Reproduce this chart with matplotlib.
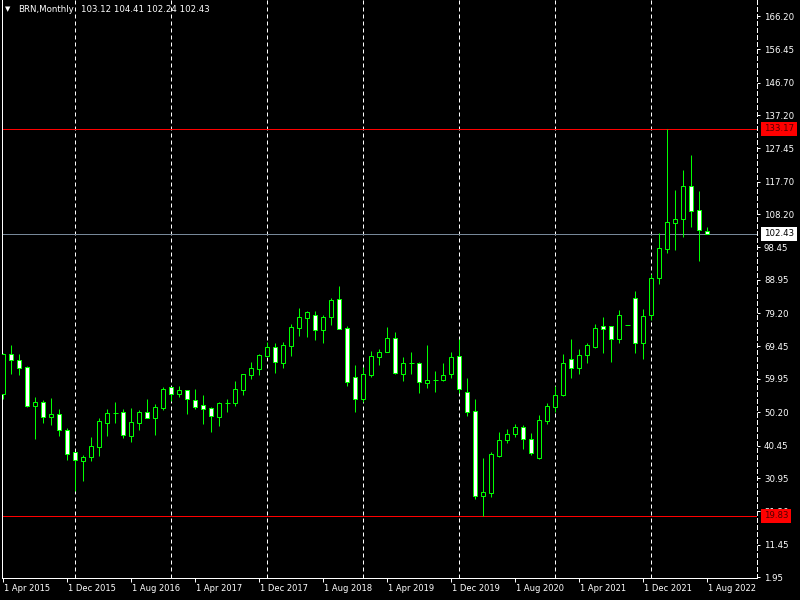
import matplotlib
matplotlib.use('Agg')
import matplotlib.pyplot as plt
import matplotlib.transforms as mtransforms
import numpy as np
import pandas as pd

# ---------------- data (monthly BRN candles, Apr 2015 .. Aug 2022) ----------------
months = pd.date_range('2015-04-01', periods=89, freq='MS')

opens = [55.46, 67.25, 65.40, 63.40, 51.95, 53.10, 48.70, 49.60, 44.90, 38.50,
         35.85, 37.00, 40.10, 47.15, 50.10, 50.20, 43.30, 47.15, 50.20, 48.60,
         51.50, 57.60, 55.65, 56.70, 53.70, 52.20, 51.45, 48.90, 52.90, 52.99,
         56.80, 61.20, 62.95, 66.76, 69.20, 64.70, 69.70, 75.00, 77.90, 78.60,
         74.20, 78.00, 83.27, 74.80, 60.40, 54.17, 61.20, 66.50, 67.93, 71.85,
         61.50, 64.50, 64.50, 58.86, 59.70, 59.70, 61.30, 66.60, 56.05, 50.57,
         25.77, 26.65, 37.50, 42.00, 43.70, 45.80, 42.30, 36.73, 47.73, 51.80,
         55.17, 65.70, 63.25, 67.05, 69.40, 75.37, 75.37, 71.73, 75.70, 83.56,
         70.38, 78.58, 89.40, 98.08, 105.60, 106.80, 116.35, 109.30, 103.12]
highs = [67.60, 69.90, 67.25, 63.75, 54.70, 53.80, 54.50, 51.15, 45.60, 38.60,
         37.80, 43.00, 48.50, 51.15, 53.20, 51.10, 51.45, 50.90, 54.10, 52.60,
         57.60, 57.60, 57.90, 56.80, 57.00, 55.25, 51.85, 53.30, 54.10, 59.35,
         61.40, 64.90, 67.25, 70.85, 70.40, 70.80, 76.04, 80.70, 79.75, 79.75,
         78.58, 83.65, 87.16, 75.45, 64.00, 63.37, 68.13, 68.63, 75.16, 73.70,
         66.40, 67.84, 64.90, 69.90, 62.27, 64.60, 67.84, 71.60, 60.20, 54.00,
         36.80, 38.56, 44.40, 45.30, 46.76, 46.47, 44.13, 49.40, 52.82, 57.90,
         67.25, 71.65, 68.72, 70.47, 76.04, 78.09, 75.40, 80.13, 75.70, 85.70,
         80.40, 90.60, 102.60, 133.17, 115.26, 121.10, 125.50, 114.97, 104.41]
lows = [54.17, 61.50, 61.10, 51.80, 42.46, 47.10, 46.50, 43.30, 36.10, 27.20,
        30.20, 36.00, 37.40, 43.25, 46.96, 42.70, 41.50, 45.00, 48.60, 43.55,
        51.00, 53.60, 54.75, 49.80, 51.20, 46.85, 44.50, 46.27, 50.20, 52.00,
        55.35, 59.90, 61.10, 66.50, 61.80, 63.25, 66.67, 72.50, 72.30, 71.45,
        70.57, 75.83, 74.60, 57.90, 50.30, 53.30, 60.60, 64.03, 67.80, 61.30,
        59.35, 61.40, 55.80, 57.40, 56.13, 59.40, 60.32, 55.75, 49.20, 24.72,
        19.83, 25.50, 37.20, 41.30, 43.00, 39.53, 37.60, 36.60, 46.85, 50.36,
        55.00, 60.32, 61.50, 64.70, 69.00, 67.63, 64.99, 70.57, 75.70, 67.63,
        65.88, 77.20, 87.80, 96.90, 97.80, 101.60, 104.50, 94.57, 102.24]
closes = [67.25, 65.60, 63.25, 51.95, 53.10, 48.70, 49.60, 44.90, 37.98, 36.10,
          37.10, 40.30, 47.60, 50.00, 50.10, 43.60, 47.26, 50.20, 48.60, 51.65,
          57.00, 55.65, 56.70, 53.99, 51.80, 51.24, 49.20, 52.80, 52.90, 56.90,
          61.30, 63.07, 66.87, 69.20, 64.80, 69.80, 75.07, 78.00, 79.50, 74.20,
          78.00, 82.97, 74.66, 59.15, 54.17, 61.30, 66.60, 67.75, 71.94, 61.78,
          64.60, 64.50, 59.15, 59.65, 59.70, 61.00, 66.30, 56.90, 50.20, 25.77,
          26.77, 37.98, 42.08, 43.83, 45.88, 42.29, 38.20, 47.85, 51.95, 55.17,
          64.53, 63.25, 66.87, 69.80, 74.78, 74.66, 71.73, 78.58, 75.70, 70.38,
          78.38, 89.40, 98.20, 105.80, 106.70, 116.35, 109.20, 103.64, 102.43]

date_tick_idx = list(range(0, 89, 8))
date_tick_labels = ['1 Apr 2015', '1 Dec 2015', '1 Aug 2016', '1 Apr 2017',
                    '1 Dec 2017', '1 Aug 2018', '1 Apr 2019', '1 Dec 2019',
                    '1 Aug 2020', '1 Apr 2021', '1 Dec 2021', '1 Aug 2022']
price_ticks = [166.20, 156.45, 146.70, 137.20, 127.45, 117.70, 108.20, 98.45,
               88.95, 79.20, 69.45, 59.95, 50.20, 40.45, 30.95, 21.20, 11.45, 1.95]
separator_idx = [9, 21, 33, 45, 57, 69, 81]   # January of each year
level_high = 133.17
level_low = 19.83
last_price = 102.43
symbol = 'BRN,Monthly'
last_ohlc = '103.12 104.41 102.24 102.43'

# ---------------- figure ----------------
GREEN = '#00ff00'
LW = 0.72  # one pixel at 100 dpi
W, H = 800, 600
fig = plt.figure(figsize=(8, 6), dpi=100, facecolor='black')
ax = fig.add_axes([2 / W, 22 / H, 755 / W, 578 / H], facecolor='black')

# axis scales (pixel calibrated)
px_per_unit = 3.416
ax.set_ylim(166.2 - 562 / px_per_unit, 166.2 + 16 / px_per_unit)
ax.set_xlim((2 - 3.3) / 8, (757 - 3.3) / 8)

x = np.arange(len(opens))
o = np.array(opens)
c = np.array(closes)
h = np.array(highs)
l = np.array(lows)
up = c > o
dn = c < o
flat = c == o

# separators
for k in separator_idx:
    ax.axvline(k, color='white', lw=LW, ls=(0, (4, 3)), zorder=1, snap=True)

# level lines
ax.axhline(level_high, color='#ff0000', lw=LW, zorder=2, snap=True)
ax.axhline(level_low, color='#ff0000', lw=LW, zorder=2, snap=True)
ax.axhline(last_price, color='#778899', lw=LW, zorder=2, snap=True)

# candles
ax.vlines(x, l, h, color=GREEN, lw=LW, zorder=3, snap=True)
ax.bar(x[up], (c - o)[up], bottom=o[up], width=0.5, facecolor='black',
       edgecolor=GREEN, lw=LW, zorder=4, snap=True)
ax.bar(x[dn], (o - c)[dn], bottom=c[dn], width=0.5, facecolor='white',
       edgecolor=GREEN, lw=LW, zorder=4, snap=True)
ax.hlines(o[flat], x[flat] - 0.3, x[flat] + 0.3, color=GREEN, lw=LW, zorder=4,
          snap=True)

# spines
for s in ['left', 'bottom', 'right']:
    ax.spines[s].set_color('white')
    ax.spines[s].set_linewidth(LW)
ax.spines['right'].set_linestyle((0, (4, 3)))
ax.spines['top'].set_visible(False)

# y axis (right)
ax.yaxis.tick_right()
ax.set_yticks(price_ticks)
ax.set_yticklabels([f'{v:.2f}' for v in price_ticks])
ax.tick_params(axis='y', colors='white', length=2.5, width=LW, labelsize=6.2,
               pad=2.5, direction='out')

# x axis (bottom)
ax.set_xticks(date_tick_idx)
ax.set_xticklabels(date_tick_labels)
ax.tick_params(axis='x', colors='white', length=3, width=LW, labelsize=6,
               pad=1.5, direction='out')
offset = mtransforms.ScaledTranslation(1.0 / 100, 0, fig.dpi_scale_trans)
for lab in ax.get_xticklabels():
    lab.set_ha('left')
    lab.set_transform(lab.get_transform() + offset)

# price labels on the right axis
trans = mtransforms.blended_transform_factory(ax.transAxes, ax.transData) + \
    mtransforms.ScaledTranslation(7 / 100, 0, fig.dpi_scale_trans)
for val, fc, tc in [(level_high, '#ff0000', '#500000'),
                    (level_low, '#ff0000', '#500000'),
                    (last_price, 'white', 'black')]:
    ax.text(1.0, val, f'{val:.2f}', transform=trans, ha='left', va='center',
            fontsize=6.2, color=tc, clip_on=False, zorder=10,
            bbox=dict(boxstyle='square,pad=0.3', fc=fc, ec='none'))

# header
fig.text(5 / W, 1 - 9 / H, '\u25BC', color='white', fontsize=5, va='center', ha='left')
fig.text(18 / W, 1 - 9 / H, symbol, color='white', fontsize=6.2, va='center', ha='left')
fig.text(81 / W, 1 - 9 / H, last_ohlc, color='white', fontsize=6.2, va='center', ha='left')

fig.savefig('out.png', dpi=100, facecolor='black')
